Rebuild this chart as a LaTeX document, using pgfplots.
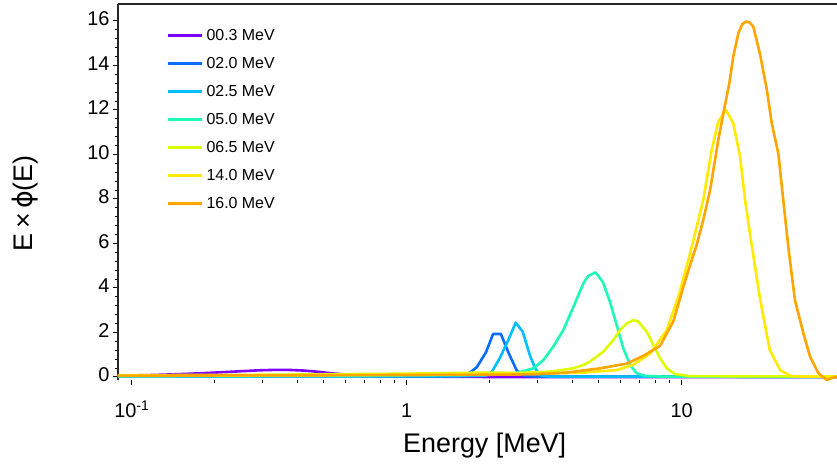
\documentclass[border=0pt]{standalone}
\usepackage{pgfplots}
\pgfplotsset{compat=1.18}
\usepackage{fontspec}
\setmainfont{Liberation Sans}
\newfontfamily\djv{DejaVu Sans}
\definecolor{c1}{HTML}{8000FF}
\definecolor{c2}{HTML}{0A6CFF}
\definecolor{c3}{HTML}{00BFFF}
\definecolor{c4}{HTML}{1EF8B8}
\definecolor{c5}{HTML}{DDFF00}
\definecolor{c6}{HTML}{FFEA00}
\definecolor{c7}{HTML}{FFA500}
\begin{document}
\begin{tikzpicture}
\useasboundingbox (-118bp,-84bp) rectangle (719bp,380bp);
\begin{axis}[
  scale only axis, width=719bp, height=376bp,
  xmode=log, xmin=0.0891, xmax=36.7, ymin=-0.135, ymax=16.76,
  axis x line*=bottom, axis y line*=left,
  x axis line style={draw=none},
  y axis line style={line width=1.6bp, black!85},
  xtick={0.1,1,10}, xticklabels={10\textsuperscript{-1},1,10},
  ytick={0,2,...,16}, minor y tick num=4,
  /pgf/number format/assume math mode=true,
  tick label style={font=\fontsize{20}{24}\selectfont},
  typeset ticklabels with strut,
  xticklabel style={yshift=-12bp},
  tick align=outside, major tick length=5bp, minor tick length=3bp,
  tick style={black, line width=1bp},
  xlabel={Energy [MeV]}, ylabel={E\,×\,{\djv ϕ}(E)},
  label style={font=\fontsize{27}{30}\selectfont},
  xlabel style={at={(axis description cs:0.51,-0.1915)}, anchor=base},
  ylabel style={at={(axis description cs:-0.129,0.47)}, anchor=center},
  legend style={at={(rel axis cs:0.0668,0.9328)}, anchor=north west, draw=none, fill=none,
    font=\fontsize{16}{18}\selectfont, row sep=16.5bp, inner sep=0pt,
    nodes={inner xsep=3.5bp, inner ysep=0bp, text height=11.5bp, text depth=0bp}},
  legend cell align=left,
  legend image code/.code={\draw[#1, line width=2.8bp] (0bp,0bp) -- (34bp,0bp);},
  every axis plot/.append style={line width=2.6bp, line join=round},
]
\addplot[c1] coordinates {(0.089,0.06) (0.1,0.07) (0.12,0.09) (0.15,0.13) (0.18,0.17) (0.21,0.21) (0.25,0.26) (0.29,0.30) (0.33,0.32) (0.37,0.32) (0.42,0.29) (0.47,0.24) (0.53,0.17) (0.6,0.11) (0.68,0.07) (0.77,0.05) (0.9,0.03) (1.1,0.02) (1.5,0.01) (2,0) (36.7,0)};
\addlegendentry{00.3 MeV}
\addplot[c2] coordinates {(0.089,0.02) (1.0,0.03) (1.5,0.05) (1.62,0.08) (1.70,0.2) (1.80,0.45) (1.94,1.1) (2.06,1.93) (2.20,1.93) (2.35,1.06) (2.51,0.3) (2.66,0.06) (2.9,0.02) (36.7,0.01)};
\addlegendentry{02.0 MeV}
\addplot[c3] coordinates {(0.089,0.02) (1.5,0.03) (1.94,0.06) (2.04,0.24) (2.18,0.85) (2.34,1.66) (2.49,2.44) (2.64,2.04) (2.81,0.94) (2.93,0.4) (3.05,0.08) (3.3,0.02) (36.7,0.01)};
\addlegendentry{02.5 MeV}
\addplot[c4] coordinates {(0.089,0.04) (0.5,0.05) (1,0.07) (2,0.1) (2.51,0.18) (2.89,0.39) (3.14,0.76) (3.41,1.36) (3.71,2.11) (4.04,3.16) (4.39,4.21) (4.57,4.54) (4.86,4.70) (5.16,4.28) (5.48,3.38) (5.80,2.34) (6.13,1.29) (6.49,0.54) (6.86,0.17) (7.36,0.05) (8.5,0.02) (36.7,0.01)};
\addlegendentry{05.0 MeV}
\addplot[c5] coordinates {(0.089,0.08) (0.3,0.1) (1,0.15) (2,0.2) (2.5,0.18) (3.32,0.24) (4.04,0.39) (4.39,0.54) (4.64,0.69) (5.19,1.14) (5.64,1.66) (5.97,2.11) (6.31,2.41) (6.67,2.56) (6.95,2.49) (7.46,2.04) (7.88,1.44) (8.34,0.84) (8.82,0.39) (9.46,0.13) (10.7,0.04) (36.7,0.02)};
\addlegendentry{06.5 MeV}
\addplot[c6] coordinates {(0.089,0.05) (0.5,0.08) (1,0.12) (2,0.15) (3,0.15) (4.39,0.2) (5.80,0.31) (6.67,0.55) (7.67,1.05) (8.82,2.11) (9.72,3.6) (10.7,5.5) (11.98,7.96) (12.85,10.2) (13.58,11.47) (14.49,12.0) (15.4,11.4) (16.3,9.9) (17.0,7.96) (17.7,6.46) (19.3,3.46) (20.9,1.21) (22.8,0.31) (24.8,0.05) (27,0.02) (36.7,0.02)};
\addlegendentry{14.0 MeV}
\addplot[c7] coordinates {(0.089,0.06) (0.5,0.08) (1,0.09) (2,0.1) (2.89,0.12) (3.82,0.2) (5.05,0.39) (6.31,0.6) (7.25,0.95) (8.34,1.4) (9.32,2.5) (10.0,3.8) (10.4,4.5) (10.9,5.3) (11.34,5.95) (12.0,7.1) (12.68,8.4) (13.58,10.65) (14.25,12.0) (14.9,13.2) (15.4,14.4) (16.07,15.45) (16.6,15.85) (17.13,15.97) (17.65,15.93) (18.2,15.75) (19.27,14.5) (20.4,12.9) (21.25,11.4) (22.45,10.05) (23.4,7.96) (24.4,5.86) (25.8,3.46) (27.7,1.96) (29.3,0.91) (31.4,0.17) (33.7,-0.13) (36.1,0.0) (36.7,0.0)};
\addlegendentry{16.0 MeV}
\draw[line width=1.6bp, black!85] (rel axis cs:0,1) -- (rel axis cs:1,1);
\end{axis}
\end{tikzpicture}
\end{document}
